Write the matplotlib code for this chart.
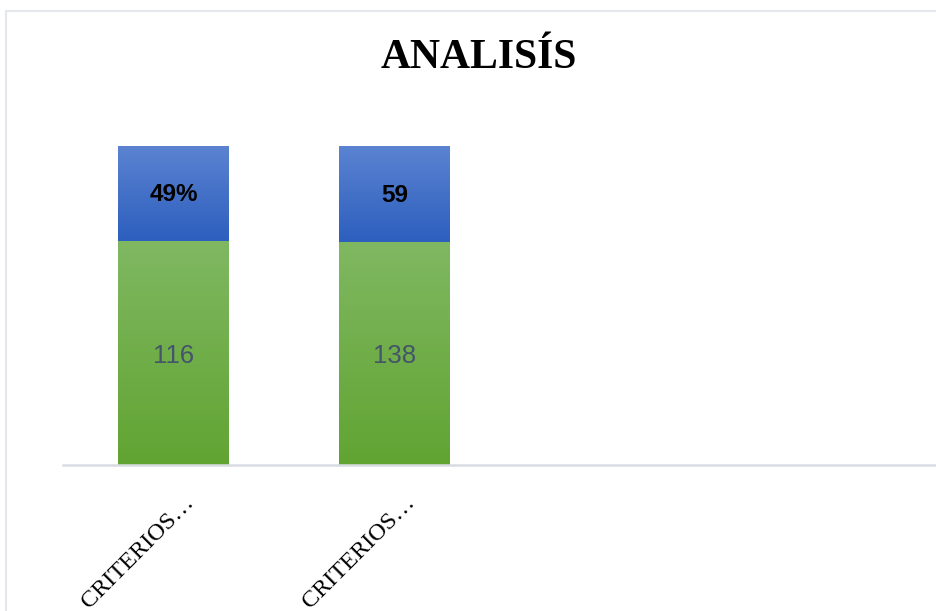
import numpy as np
import matplotlib
matplotlib.use("Agg")
import matplotlib.pyplot as plt
import matplotlib.transforms as mtransforms
from matplotlib.colors import LinearSegmentedColormap
from matplotlib.patches import Rectangle

# data (100% stacked bars)
categories = ["CRITERIOS\u2026", "CRITERIOS\u2026"]
green_values = [116, 138]
blue_values = [49, 59]
blue_labels = ["49%", "59"]
green_labels = ["116", "138"]

totals = [g + b for g, b in zip(green_values, blue_values)]
green_share = [g / t for g, t in zip(green_values, totals)]
blue_share = [b / t for b, t in zip(blue_values, totals)]

fig = plt.figure(figsize=(9.36, 6.11), dpi=100)
W, H = 936, 611

# light frame around the chart area
fig.patches.append(Rectangle((6 / W, -0.1), 1.2, 1 - 11 / H + 0.1, transform=fig.transFigure,
                             fill=False, edgecolor="#e4e7ec", linewidth=1.5))

ax = fig.add_axes([63 / W, (H - 465) / H, 1 - 63 / W, 319 / H])
ax.patch.set_alpha(0)

green_cmap = LinearSegmentedColormap.from_list("g", ["#61a432", "#80b862"])
blue_cmap = LinearSegmentedColormap.from_list("b", ["#2d5fbe", "#5b83d1"])
grad = np.linspace(0, 1, 256).reshape(-1, 1)

x = np.arange(len(categories))
width = 0.5
gbars = ax.bar(x, green_share, width, color="#70ae48", linewidth=0)
bbars = ax.bar(x, blue_share, width, bottom=green_share, color="#4472c4", linewidth=0)

# gradient fill inside each bar
for bars, cmap in ((gbars, green_cmap), (bbars, blue_cmap)):
    for b in bars:
        x0, y0 = b.get_x(), b.get_y()
        im = ax.imshow(grad, cmap=cmap, origin="lower", aspect="auto",
                       extent=(x0, x0 + b.get_width(), y0, y0 + b.get_height()), zorder=2)
        im.set_clip_path(b)
ax.set_xlim(-0.5, 3.45)
ax.set_ylim(0, 1)

for i in range(len(categories)):
    ax.text(x[i], green_share[i] / 2 - 0.01, green_labels[i], ha="center", va="center",
            fontsize=18.5, color="#44546a", family="Liberation Sans", zorder=3)
    ax.text(x[i], green_share[i] + blue_share[i] / 2 - 0.005, blue_labels[i], ha="center",
            va="center", fontsize=17.5, fontweight="bold", color="black",
            family="Liberation Sans", zorder=3)

for s in ("top", "right", "left"):
    ax.spines[s].set_visible(False)
ax.spines["bottom"].set_color("#d9dce3")
ax.spines["bottom"].set_linewidth(1.8)
ax.set_yticks([])
ax.set_xticks(x)
ax.set_xticklabels(categories, rotation=45, ha="right", va="top", rotation_mode="anchor",
                   fontsize=17.5, family="Liberation Serif")
ax.tick_params(axis="x", length=0, pad=0)
offset = mtransforms.ScaledTranslation(10 / 100, -27 / 100, fig.dpi_scale_trans)
for lbl in ax.get_xticklabels():
    lbl.set_transform(lbl.get_transform() + offset)

fig.text(479 / W, 1 - 58 / H, "ANALIS\u00cdS", ha="center", va="center", fontsize=30,
         fontweight="bold", family="Liberation Serif")

fig.savefig("out.png", dpi=100)
